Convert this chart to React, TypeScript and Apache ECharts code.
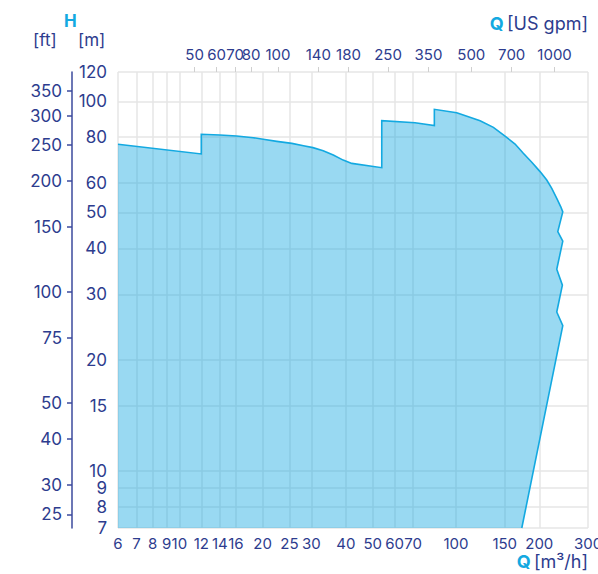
import React, { useEffect, useRef } from "react";
import * as echarts from "echarts";

// Pump performance envelope: flow Q [m³/h] vs head H [m]
const qFlow = [
  6, 12, 12, 14, 16.1, 18.5, 20.1, 22.5, 25.5, 28.1, 30.4, 33.1, 36.0, 39.1, 42.0, 53.9,
  53.9, 71.1, 83.5, 83.5, 100.6, 122.2, 136.5, 150.4, 163.5, 175.1, 187.9, 201.3, 212.8, 221.9, 231.3, 239.2, 243.2,
  233.3, 243.2, 231.3, 242.4, 231.3, 243.2, 172.9,
];
const hHead = [
  76.5, 72.0, 81.4, 81.0, 80.5, 79.7, 78.9, 77.9, 76.9, 75.8, 74.9, 73.5, 71.5, 69.3, 67.9, 66.1,
  88.6, 87.5, 85.9, 95.1, 93.1, 88.6, 85.0, 80.5, 76.6, 72.3, 68.4, 64.5, 61.2, 58.1, 54.6, 51.8, 50.2,
  44.4, 41.8, 35.1, 31.8, 26.9, 24.7, 7,
];

const qTicks = [6, 7, 8, 9, 10, 12, 14, 16, 20, 25, 30, 40, 50, 60, 70, 100, 150, 200, 300];
const gpmTicks = [50, 60, 70, 80, 100, 140, 180, 250, 350, 500, 700, 1000];
const mTicks = [7, 8, 9, 10, 15, 20, 30, 40, 50, 60, 80, 100, 120];
const ftTicks = [25, 30, 40, 50, 75, 100, 150, 200, 250, 300, 350];

const M_TO_FT = 3.28084;
const M3H_TO_GPM = 4.40287;
const lg = Math.log10;

const TEXT = "#2d3c8e";
const CYAN = "#13a9e1";
const GRID = "#e6e6e6";
const FONT = "Inter";

export default function App() {
  const ref = useRef<HTMLDivElement>(null);
  useEffect(() => {
    document.body.style.margin = "0";
    const chart = echarts.init(ref.current!, null, { renderer: "svg" });
    const xMin = lg(qTicks[0]);
    const xMax = lg(qTicks[qTicks.length - 1]);
    const yMin = lg(mTicks[0]);
    const yMax = lg(mTicks[mTicks.length - 1]);
    const qVals = qTicks.map(lg);
    const gpmVals = gpmTicks.map((g) => lg(g / M3H_TO_GPM));
    const mVals = mTicks.map(lg);
    const ftVals = ftTicks.map((f) => lg(f / M_TO_FT));
    const labelStyle = { color: TEXT, fontSize: 15, fontFamily: FONT };
    const leftLabelStyle = { color: TEXT, fontSize: 17, fontFamily: FONT };

    chart.setOption({
      animation: false,
      textStyle: { fontFamily: FONT },
      grid: { left: 118, right: 10, top: 72, bottom: 46, outerBoundsMode: "none", containLabel: false },
      xAxis: [
        {
          type: "value",
          position: "bottom",
          min: xMin,
          max: xMax,
          axisLine: { show: false },
          axisTick: { show: false, customValues: qVals },
          axisLabel: {
            ...labelStyle,
            customValues: qVals,
            margin: 8,
            formatter: (v: number) => String(Math.round(Math.pow(10, v))),
          },
          splitLine: { show: true, lineStyle: { color: GRID, width: 1.5 } },
        },
        {
          type: "value",
          position: "top",
          min: xMin,
          max: xMax,
          axisLine: { show: false },
          axisTick: { show: true, customValues: gpmVals, length: 5, lineStyle: { color: "#cfcfcf", width: 1 } },
          axisLabel: {
            ...labelStyle,
            customValues: gpmVals,
            margin: 10,
            formatter: (v: number) => String(Math.round(Math.pow(10, v) * M3H_TO_GPM)),
          },
          splitLine: { show: false },
        },
      ],
      yAxis: [
        {
          type: "value",
          position: "left",
          min: yMin,
          max: yMax,
          axisLine: { show: false },
          axisTick: { show: false, customValues: mVals },
          axisLabel: {
            ...leftLabelStyle,
            customValues: mVals,
            margin: 11,
            formatter: (v: number) => String(Math.round(Math.pow(10, v))),
          },
          splitLine: { show: true, lineStyle: { color: GRID, width: 1.5 } },
        },
        {
          type: "value",
          position: "left",
          offset: 46,
          min: yMin,
          max: yMax,
          axisLine: { show: true, lineStyle: { color: "#3b4a9c", width: 1.5 } },
          axisTick: { show: true, customValues: ftVals, length: 5, lineStyle: { color: "#3b4a9c", width: 1.5 } },
          axisLabel: {
            ...leftLabelStyle,
            customValues: ftVals,
            margin: 10,
            formatter: (v: number) => String(Math.round(Math.pow(10, v) * M_TO_FT)),
          },
          splitLine: { show: false },
        },
      ],
      graphic: [
        { type: "text", left: 64, top: 12, style: { text: "H", fill: CYAN, font: `bold 17px ${FONT}` } },
        { type: "text", left: 33, top: 31, style: { text: "[ft]", fill: TEXT, font: `17px ${FONT}` } },
        { type: "text", left: 78, top: 31, style: { text: "[m]", fill: TEXT, font: `17px ${FONT}` } },
        {
          type: "text",
          right: 10,
          top: 14,
          style: {
            text: "{q|Q} {u|[US gpm]}",
            rich: {
              q: { fill: CYAN, font: `bold 18px ${FONT}` },
              u: { fill: TEXT, font: `18px ${FONT}` },
            },
          },
        },
        {
          type: "text",
          right: 10,
          top: 552,
          style: {
            text: "{q|Q} {u|[m³/h]}",
            rich: {
              q: { fill: CYAN, font: `bold 18px ${FONT}` },
              u: { fill: TEXT, font: `18px ${FONT}` },
            },
          },
        },
      ],
      series: [
        {
          type: "custom",
          coordinateSystem: "cartesian2d",
          xAxisIndex: 0,
          yAxisIndex: 0,
          data: [[lg(qFlow[0]), lg(hHead[0])]],
          renderItem: (_p: any, api: any) => {
            const pts = qFlow.map((q, i) => api.coord([lg(q), lg(hHead[i])]));
            const poly = [...pts, api.coord([xMin, yMin])];
            return {
              type: "group",
              children: [
                { type: "polygon", shape: { points: poly }, style: { fill: "rgba(18,167,226,0.43)", stroke: "none" } },
                { type: "polyline", shape: { points: pts }, style: { stroke: CYAN, lineWidth: 1.6, fill: "none" } },
              ],
            };
          },
        },
      ],
    });
    return () => chart.dispose();
  }, []);
  return <div ref={ref} style={{ width: 598, height: 574 }} />;
}
